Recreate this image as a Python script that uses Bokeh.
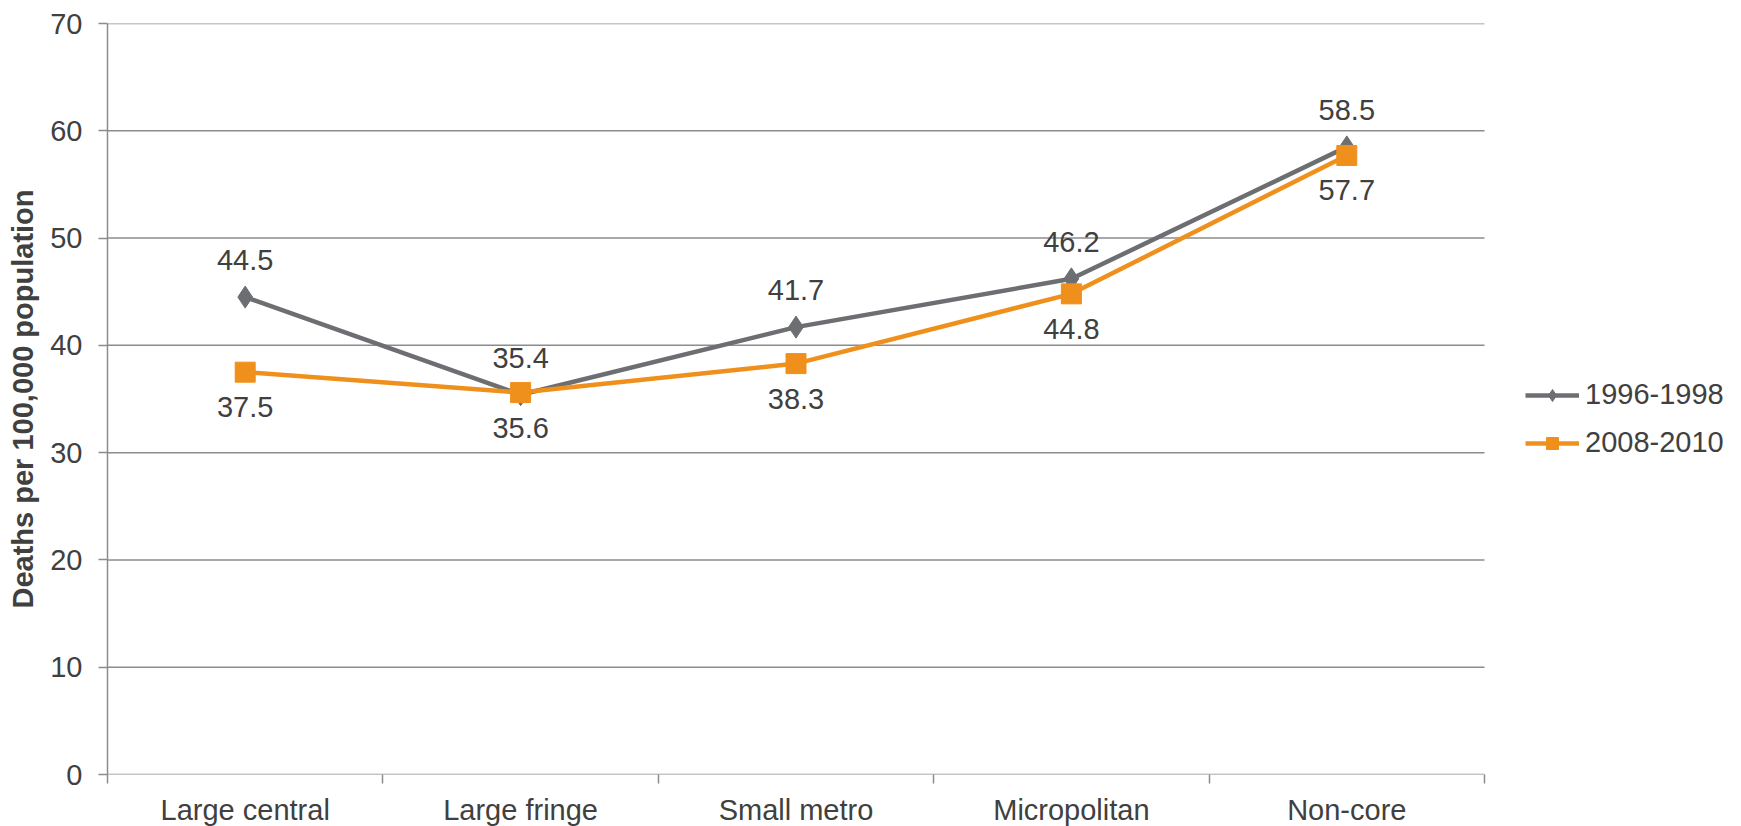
from bokeh.plotting import figure
from bokeh.models import (ColumnDataSource, FixedTicker, LabelSet, Legend,
                          LegendItem, Range1d)
from bokeh.core.properties import value
from bokeh.embed import file_html
from bokeh.resources import INLINE

# Deaths per 100,000 population by urbanization level
categories = ["Large central", "Large fringe", "Small metro", "Micropolitan", "Non-core"]
period_1 = "1996-1998"
period_2 = "2008-2010"
rates_1996 = [44.5, 35.4, 41.7, 46.2, 58.5]
rates_2008 = [37.5, 35.6, 38.3, 44.8, 57.7]
y_ticks = [0, 10, 20, 30, 40, 50, 60, 70]

FONT = "Liberation Sans"
TEXT_COLOR = "#404040"
GRID_COLOR = "#8c8c8c"
GRAY = "#6d6e72"
ORANGE = "#f0901c"

N = len(categories)
AXIS_W = 1377          # pixel width of the category area
FRAME_W = 1741 - 107   # frame also hosts the legend on its right
xs = [i + 0.5 for i in range(N)]
src_a = ColumnDataSource(dict(x=xs, y=rates_1996, lab=[f"{v:.1f}" for v in rates_1996]))
src_b = ColumnDataSource(dict(x=xs, y=rates_2008, lab=[f"{v:.1f}" for v in rates_2008]))

p = figure(frame_width=FRAME_W, frame_height=751, output_backend="svg",
           toolbar_location=None,
           x_range=Range1d(0, N * FRAME_W / AXIS_W), y_range=Range1d(0, 70),
           min_border_left=107, min_border_right=0, min_border_top=23,
           min_border_bottom=52)
p.outline_line_color = None
p.background_fill_color = "white"
p.border_fill_color = "white"
p.grid.grid_line_color = None

# Horizontal gridlines spanning the category area only
p.segment(x0=[0] * len(y_ticks), x1=[N] * len(y_ticks), y0=y_ticks, y1=y_ticks,
          line_color=GRID_COLOR, line_width=1.5)

# Y axis
ya = p.yaxis[0]
ya.ticker = FixedTicker(ticks=y_ticks)
ya.axis_line_color = GRID_COLOR
ya.axis_line_width = 1.5
ya.major_tick_line_color = GRID_COLOR
ya.major_tick_line_width = 1.5
ya.major_tick_out = 9
ya.major_tick_in = 0
ya.minor_tick_line_color = None
ya.major_label_standoff = 16
ya.major_label_text_font = FONT
ya.major_label_text_font_size = "29px"
ya.major_label_text_color = TEXT_COLOR
ya.axis_label = "Deaths per 100,000 population"
ya.axis_label_text_font = FONT
ya.axis_label_text_font_size = "29px"
ya.axis_label_text_font_style = "bold"
ya.axis_label_text_color = TEXT_COLOR
ya.axis_label_standoff = 8

# X axis: labels centered on categories, ticks on boundaries
xa = p.xaxis[0]
xa.ticker = FixedTicker(ticks=xs, minor_ticks=list(range(N + 1)))
xa.major_label_overrides = {x: c for x, c in zip(xs, categories)}
xa.axis_line_color = None
xa.major_tick_line_color = None
xa.major_tick_out = 0
xa.major_tick_in = 0
xa.minor_tick_line_color = GRID_COLOR
xa.minor_tick_line_width = 1.5
xa.minor_tick_out = 9
xa.minor_tick_in = 0
xa.major_label_standoff = 10
xa.major_label_text_font = FONT
xa.major_label_text_font_size = "29px"
xa.major_label_text_color = TEXT_COLOR

# Series
l1 = p.line("x", "y", source=src_a, line_color=GRAY, line_width=4.5)
m1 = p.scatter("x", "y", source=src_a, marker="diamond", size=22,
               fill_color=GRAY, line_color=GRAY)
l2 = p.line("x", "y", source=src_b, line_color=ORANGE, line_width=4.5)
m2 = p.scatter("x", "y", source=src_b, marker="square", size=20,
               fill_color=ORANGE, line_color=ORANGE)

# Value labels: first period above, second period below
lab_a = LabelSet(x="x", y="y", text="lab", source=src_a, y_offset=37,
                 text_align="center", text_baseline="middle",
                 text_font=value(FONT), text_font_size=value("29px"),
                 text_color=TEXT_COLOR)
lab_b = LabelSet(x="x", y="y", text="lab", source=src_b, y_offset=-35,
                 text_align="center", text_baseline="middle",
                 text_font=value(FONT), text_font_size=value("29px"),
                 text_color=TEXT_COLOR)
p.add_layout(lab_a)
p.add_layout(lab_b)

legend = Legend(items=[LegendItem(label=period_1, renderers=[l1, m1]),
                       LegendItem(label=period_2, renderers=[l2, m2])],
                location=(1418, 315), orientation="vertical",
                glyph_width=54, glyph_height=30, label_height=30,
                label_standoff=6, spacing=15, padding=0, margin=0,
                border_line_color=None, background_fill_alpha=0,
                label_text_font=FONT, label_text_font_size="29px",
                label_text_color=TEXT_COLOR)
p.add_layout(legend)

open("out.html", "w").write(file_html(p, INLINE))
